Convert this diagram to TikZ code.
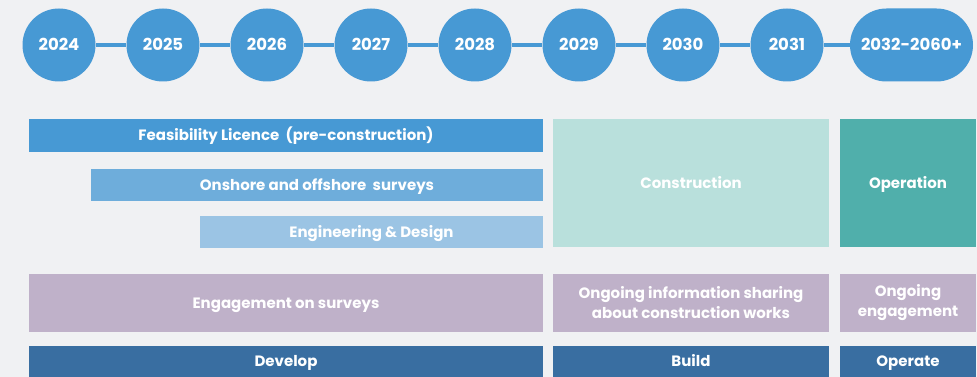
\documentclass[tikz,border=0pt]{standalone}
\usepackage{fontspec}
\setmainfont{Poppins}
\usepackage{xcolor}
\usepackage{tikz}

\definecolor{yearblue}{HTML}{4799D4}
\definecolor{surveyblue}{HTML}{6EADDB}
\definecolor{designblue}{HTML}{9BC4E4}
\definecolor{buildmint}{HTML}{B9E0DC}
\definecolor{operteal}{HTML}{50AFAB}
\definecolor{talklilac}{HTML}{BFB1C9}
\definecolor{phasenavy}{HTML}{396EA1}
\definecolor{pagegrey}{HTML}{F0F1F3}

\begin{document}
\begin{tikzpicture}[x=1pt, y=-1pt,
    year/.style={circle, fill=yearblue, minimum size=73pt, inner sep=0pt,
        text=white, text height=11.5pt, text depth=0pt,
        font=\bfseries\fontsize{16.5}{18}\selectfont},
    box/.style={rectangle, inner sep=0pt, text=white, align=center,
        font=\bfseries\fontsize{15}{20}\selectfont},
    bar/.style={box, text height=10.5pt, text depth=0pt}]
        % background and page size
        \fill[pagegrey] (0,0) rectangle (977,377);
        \useasboundingbox (0,0) rectangle (977,377);

        % timeline of years
        \foreach \yr [count=\i from 0] in {2024,2025,2026,2027,2028,2029,2030,2031}
            \node[year] (y\yr) at (59+104*\i,45) {\yr};
        \node[year, rectangle, rounded corners=36.5pt, minimum width=123pt] (ylast) at (911.5,45) {2032-2060+};
        \foreach \a/\b in {2024/2025,2025/2026,2026/2027,2027/2028,2028/2029,2029/2030,2030/2031}
            \draw[yearblue, line width=4pt] (y\a) -- (y\b);
        \draw[yearblue, line width=4pt] (y2031) -- (ylast);

        % pre-construction work
        \node[bar, fill=yearblue, minimum width=514pt, minimum height=33pt] (feas) at (286,135.5) {Feasibility Licence~ (pre-construction)};
        \node[bar, fill=surveyblue, minimum width=452pt, minimum height=32pt] (surv) at (317,185) {Onshore and offshore~ surveys};
        \node[bar, fill=designblue, minimum width=343pt, minimum height=32pt] (design) at (371.5,232) {Engineering \& Design};

        % construction and operation
        \node[bar, fill=buildmint, minimum width=276pt, minimum height=128pt] (constr) at (691,183) {Construction};
        \node[bar, fill=operteal, minimum width=136pt, minimum height=128pt] (oper) at (908,183) {Operation};

        % engagement row
        \node[bar, fill=talklilac, minimum width=514pt, minimum height=58pt] (engage) at (286,303) {Engagement on surveys};
        \node[box, fill=talklilac, minimum width=276pt, minimum height=58pt] (info) at (691,303) {Ongoing information sharing\\about construction works};
        \node[box, fill=talklilac, minimum width=136pt, minimum height=58pt] (ongo) at (908,303) {Ongoing\\engagement};

        % phases
        \node[bar, fill=phasenavy, minimum width=514pt, minimum height=31pt] (develop) at (286,361.5) {Develop};
        \node[bar, fill=phasenavy, minimum width=276pt, minimum height=31pt] (build) at (691,361.5) {Build};
        \node[bar, fill=phasenavy, minimum width=136pt, minimum height=31pt] (operate) at (908,361.5) {Operate};
    \end{tikzpicture}
\end{document}
